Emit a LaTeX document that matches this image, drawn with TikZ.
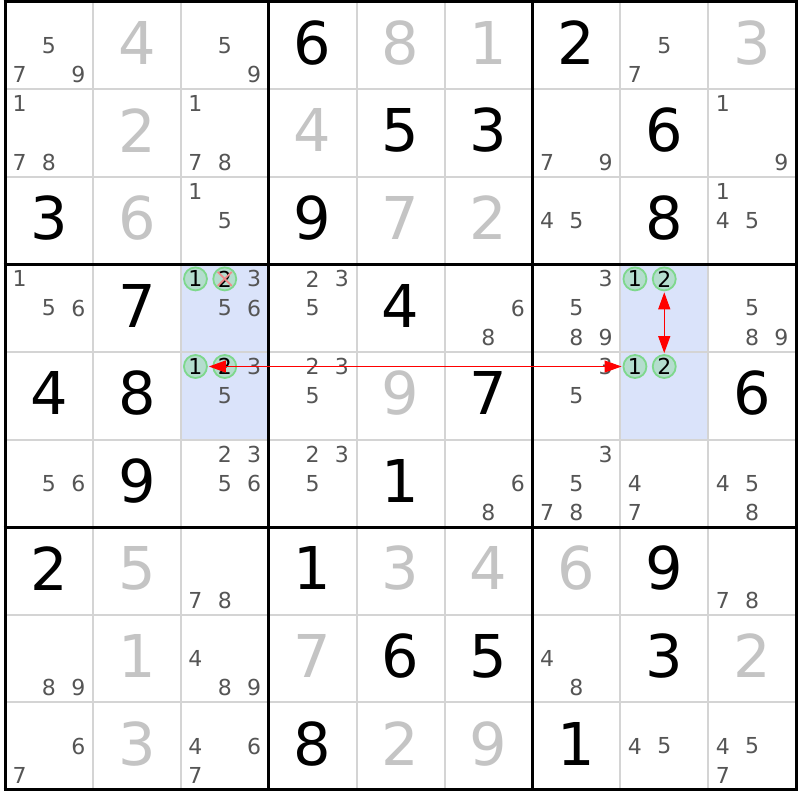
\documentclass[tikz,border=0pt]{standalone}
\usepackage{fontspec}
\setmainfont{DejaVu Sans}
\usetikzlibrary{arrows.meta}
\definecolor{solvedgray}{HTML}{C4C4C4}
\definecolor{candgray}{HTML}{555555}
\definecolor{thingrid}{HTML}{D4D4D4}
\definecolor{hlblue}{HTML}{DAE3FA}
\definecolor{circfill}{HTML}{B4DDCE}
\definecolor{circline}{HTML}{7ED88C}
\definecolor{crossred}{HTML}{F08A8A}
\definecolor{arrred}{HTML}{FF0000}
\begin{document}
\begin{tikzpicture}[x=1pt,y=-1pt,
  given/.style={font=\fontsize{59}{59}\selectfont, text=black, inner sep=0pt},
  solved/.style={font=\fontsize{59}{59}\selectfont, text=solvedgray, inner sep=0pt},
  cand/.style={font=\fontsize{22}{22}\selectfont, text=candgray, inner sep=0pt},
  candon/.style={font=\fontsize{22}{22}\selectfont, text=black, inner sep=0pt},
  circ/.style={circle, draw=circline, fill=circfill, line width=1.8pt, minimum size=23pt, inner sep=0pt},
  thin/.style={draw=thingrid, line width=2pt},
  thick/.style={draw=black, line width=3pt},
  hl/.style={fill=hlblue},
  arr/.style={draw=arrred, line width=1.2pt, {Triangle[length=17pt,width=12pt]}-{Triangle[length=17pt,width=12pt]}, shorten <=1pt, shorten >=1pt},
  xmark/.style={draw=crossred, line width=1.8pt}]
\def\ox{5}\def\oy{1.5}\def\cx{87.9}\def\cy{87.6}
\useasboundingbox (0,0) rectangle (800,800);
\fill[white] (0,0) rectangle (800,800);
% highlighted cells
\fill[hl] (\ox+2*\cx,\oy+3*\cy) rectangle (\ox+3*\cx,\oy+5*\cy);
\fill[hl] (\ox+7*\cx,\oy+3*\cy) rectangle (\ox+8*\cx,\oy+5*\cy);
% thin grid
\foreach \i in {1,2,4,5,7,8} {
  \draw[thin] (\ox+\i*\cx,\oy) -- (\ox+\i*\cx,\oy+9*\cy);
  \draw[thin] (\ox,\oy+\i*\cy) -- (\ox+9*\cx,\oy+\i*\cy);
}
\foreach \i in {0,3,6,9} {
  \draw[thick] (\ox+\i*\cx,\oy-1.5) -- (\ox+\i*\cx,\oy+9*\cy+1.5);
  \draw[thick] (\ox-1.5,\oy+\i*\cy) -- (\ox+9*\cx+1.5,\oy+\i*\cy);
}
% given digits
\foreach \r/\c/\d in {0/3/6,0/6/2,1/4/5,1/5/3,1/7/6,2/0/3,2/3/9,2/7/8,3/1/7,3/4/4,4/0/4,4/1/8,4/5/7,4/8/6,5/1/9,5/4/1,6/0/2,6/3/1,6/7/9,7/4/6,7/5/5,7/7/3,8/3/8,8/6/1}
  \node[given] (g-\r-\c) at (\ox+\c*\cx+0.5*\cx,\oy+\r*\cy+0.5*\cy-2.5) {\d};
% solved digits
\foreach \r/\c/\d in {0/1/4,0/4/8,0/5/1,0/8/3,1/1/2,1/3/4,2/1/6,2/4/7,2/5/2,4/4/9,6/1/5,6/4/3,6/5/4,6/6/6,7/1/1,7/3/7,7/8/2,8/1/3,8/4/2,8/5/9}
  \node[solved] (g-\r-\c) at (\ox+\c*\cx+0.5*\cx,\oy+\r*\cy+0.5*\cy-2.5) {\d};
% candidates
\foreach \r/\c/\L in {0/0/{5,7,9},0/2/{5,9},0/7/{5,7},
  1/0/{1,7,8},1/2/{1,7,8},1/6/{7,9},1/8/{1,9},
  2/2/{1,5},2/6/{4,5},2/8/{1,4,5},
  3/0/{1,5,6},3/2/{3,5,6},3/3/{2,3,5},3/5/{6,8},3/6/{3,5,8,9},3/8/{5,8,9},
  4/2/{3,5},4/3/{2,3,5},4/6/{3,5},
  5/0/{5,6},5/2/{2,3,5,6},5/3/{2,3,5},5/5/{6,8},5/6/{3,5,7,8},5/7/{4,7},5/8/{4,5,8},
  6/2/{7,8},6/8/{7,8},
  7/0/{8,9},7/2/{4,8,9},7/6/{4,8},
  8/0/{6,7},8/2/{4,6,7},8/7/{4,5},8/8/{4,5,7}} {
  \foreach \d in \L {
    \pgfmathtruncatemacro\cc{mod(\d-1,3)}
    \pgfmathtruncatemacro\rr{div(\d-1,3)}
    \node[cand] (k-\r-\c-\d) at (\ox+\c*\cx+\cc*\cx/3+\cx/6,\oy+\r*\cy+\rr*\cy/3+\cy/6) {\d};
  }
}
% circled candidates
\foreach \r/\c in {3/2,4/2,3/7,4/7} {
  \foreach \d in {1,2} {
    \pgfmathtruncatemacro\cc{mod(\d-1,3)}
    \node[circ] (o-\r-\c-\d) at (\ox+\c*\cx+\cc*\cx/3+\cx/6,\oy+\r*\cy+\cy/6) {};
    \node[candon] (k-\r-\c-\d) at (o-\r-\c-\d.center) {\d};
  }
}
% eliminated candidate
\draw[xmark] ([shift={(-7,-7)}]o-3-2-2.center) -- ([shift={(7,7)}]o-3-2-2.center);
\draw[xmark] ([shift={(7,-7)}]o-3-2-2.center) -- ([shift={(-7,7)}]o-3-2-2.center);
% links
\draw[arr] (o-4-7-1) -- (o-4-2-1);
\draw[arr] (o-3-7-2) -- (o-4-7-2);
\end{tikzpicture}
\end{document}
